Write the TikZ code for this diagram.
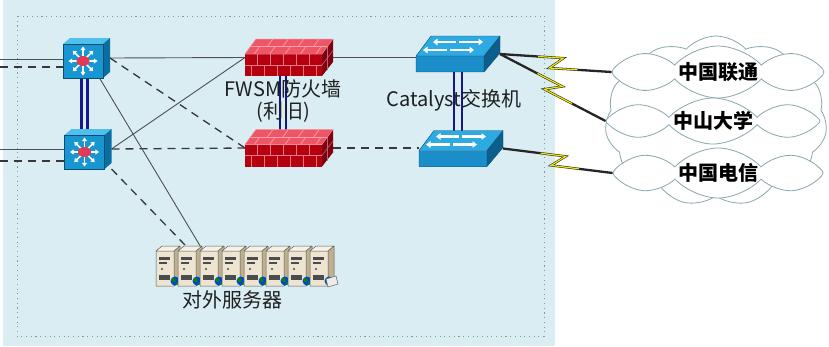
\documentclass[tikz,border=0pt]{standalone}
\usepackage{fontspec}
\setmainfont{Noto Sans CJK SC}
\usetikzlibrary{shapes.symbols,arrows.meta,calc}

\definecolor{panel}{HTML}{DAEDF3}
\definecolor{frameline}{HTML}{8C9496}
\definecolor{wire}{HTML}{505050}
\definecolor{trunkblue}{HTML}{16168A}
\definecolor{hubfront}{HTML}{1896D2}
\definecolor{hubtop}{HTML}{4FC0EE}
\definecolor{hubside}{HTML}{0B6EA3}
\definecolor{hubred}{HTML}{E23A55}
\definecolor{fwtop}{HTML}{EE5566}
\definecolor{fwbrick}{HTML}{F6A1AA}
\definecolor{fwfront}{HTML}{B5000F}
\definecolor{fwside}{HTML}{7C0010}
\definecolor{cattop}{HTML}{2DAAE2}
\definecolor{catfront}{HTML}{1B8DC9}
\definecolor{catside}{HTML}{0C5F8C}
\definecolor{srvfront}{HTML}{EDE5D2}
\definecolor{srvtop}{HTML}{F7F2E6}
\definecolor{srvside}{HTML}{BFB08F}
\definecolor{cloudline}{HTML}{8AA6AE}
\definecolor{boltyellow}{HTML}{F2E600}
\definecolor{labeltext}{HTML}{1F1F1F}

\tikzset{
  iconbox/.style={inner sep=0pt, outer sep=0pt},
  lbl/.style={font=\fontsize{20}{24}\selectfont, text=labeltext, inner sep=0pt},
  cloudlbl/.style={font=\fontsize{20}{24}\selectfont\bfseries, text=black},
  link/.style={draw=wire, line width=0.9pt},
  backup/.style={draw=black!78, line width=1.3pt, dash pattern=on 8pt off 6pt},
  trunk/.style={draw=trunkblue, line width=2.3pt},
  cloudbox/.style={cloud, draw=cloudline, fill=white, line width=0.8pt,
    inner sep=0pt, cloud puffs=8, cloud puff arc=95, aspect=4.3},
  % multilayer switch: front face, top, side, radiating arrows
  pics/l3sw/.style={code={
    \fill[hubtop] (0,6) -- (7,0) -- (47,0) -- (40,6) -- cycle;
    \fill[hubside] (40,6) -- (47,0) -- (47,34) -- (40,40) -- cycle;
    \fill[hubfront] (0,6) rectangle (40,40);
    \draw[hubside!70!black, line width=0.4pt] (0,6) rectangle (40,40);
    \begin{scope}[shift={(20,23)}]
      \foreach \a in {0,45,...,315}
        \draw[white, line width=1.5pt, -{Triangle[length=3.6pt,width=4.8pt]}] (\a:5) -- (\a:14.5);
      \fill[hubred] (0,0) ellipse (6.5 and 5);
    \end{scope}
  }},
  % brick wall firewall
  pics/firewall/.style={code={
    \fill[fwtop] (0,15) -- (11,0) -- (88,0) -- (77,15) -- cycle;
    \draw[fwbrick, line width=0.7pt] (5.5,7.5) -- (82.5,7.5);
    \foreach \t in {0.12,0.32,0.52,0.72,0.92}
      \draw[fwbrick, line width=0.7pt] ({77*\t},15) -- ({77*\t+5.5},7.5);
    \foreach \t in {0.22,0.42,0.62,0.82}
      \draw[fwbrick, line width=0.7pt] ({77*\t+5.5},7.5) -- ({77*\t+11},0);
    \fill[fwside] (77,15) -- (88,0) -- (88,23) -- (77,37) -- cycle;
    \draw[fwbrick!60!fwside, line width=0.6pt] (77,26) -- (88,11.5) (82.5,7.5) -- (82.5,31);
    \fill[fwfront] (0,15) rectangle (77,37);
    \draw[fwbrick!75!fwfront, line width=0.7pt] (0,26) -- (77,26);
    \foreach \x in {12,25,38,51,64}
      \draw[fwbrick!75!fwfront, line width=0.7pt] (\x,15) -- (\x,26);
    \foreach \x in {6,19,32,45,58,71}
      \draw[fwbrick!75!fwfront, line width=0.7pt] (\x,26) -- (\x,37);
    \draw[fwbrick!70!fwtop, line width=0.5pt] (0,15) -- (11,0) -- (88,0) -- (77,15) -- cycle;
  }},
  % workgroup switch with four arrows on top
  pics/catsw/.style={code={
    \fill[cattop] (0,20) -- (15,0) -- (84,0) -- (68,20) -- cycle;
    \fill[catside] (68,20) -- (84,0) -- (84,17) -- (68,36) -- cycle;
    \fill[catfront] (0,20) rectangle (68,36);
    \draw[catside!80!black, line width=0.4pt] (0,20) -- (15,0) -- (84,0) -- (84,17) -- (68,36) -- (0,36) -- cycle
      (0,20) -- (68,20) -- (84,0) (68,20) -- (68,36);
    \begin{scope}[white, line width=2.2pt, -{Triangle[length=4.5pt,width=6.5pt]}]
      \draw (40,6) -- (17,6);
      \draw (43,6) -- (67,6);
      \draw (31,14) -- (7,14);
      \draw (34,14) -- (58,14);
    \end{scope}
  }},
  % tower server with globe badge
  pics/server/.style={code={
    \fill[srvtop] (0,5) -- (6,0) -- (24,0) -- (18,5) -- cycle;
    \fill[srvside] (18,5) -- (24,0) -- (24,35) -- (18,40) -- cycle;
    \fill[srvfront] (0,5) rectangle (18,40);
    \draw[black!65, line width=0.5pt] (0,5) -- (6,0) -- (24,0) -- (24,35) -- (18,40) -- (0,40) -- cycle
      (0,5) -- (18,5) -- (24,0) (18,5) -- (18,40);
    \fill[black!70] (3,11) rectangle (14,13.5);
    \fill[black!70] (3,16) rectangle (11,18);
    \fill[black!70] (6,23) circle (1.2);
    \fill[black!70] (3,29) rectangle (14,34);
    \fill[blue!65!cyan!80!black] (19,35) circle (4.5);
    \fill[green!55!black] (17.5,34) circle (2);
    \fill[green!55!black] (21,37.5) circle (1.4);
  }},
}

% lightning link between two named points
\newcommand\zapline[2]{%
  \path ($(#1)!0.56!(#2)!6pt!90:(#2)$) coordinate (zA)
        ($(#1)!0.45!(#2)!6pt!-90:(#2)$) coordinate (zB);
  \draw[black!85, line width=2.3pt, line join=miter] (#1) -- (zA) -- (zB) -- (#2);
  \draw[boltyellow, line width=1.2pt, line join=miter] ($(#1)!0.6!(zA)$) -- (zA) -- (zB) -- ($(zB)!0.45!(#2)$);
}

\begin{document}
\begin{tikzpicture}[x=1pt, y=-1pt]
\useasboundingbox (0,0) rectangle (829,346);

% panel and its dotted frame
\fill[panel] (3,0) rectangle (555,346);
\draw[frameline, line width=1pt, dash pattern=on 1.1pt off 3.6pt] (17,16) rectangle (544,336);

% carrier clouds
\node[cloudbox, cloud puffs=11, aspect=1.3, minimum width=222pt, minimum height=170pt] (cback) at (716,121) {};
\node[cloudbox, minimum width=212pt, minimum height=52pt] (c1) at (718,72) {};
\node[cloudbox, minimum width=214pt, minimum height=46pt] (c2) at (713,121) {};
\node[cloudbox, minimum width=210pt, minimum height=50pt] (c3) at (718,173) {};
\node[cloudlbl] at (c1) {中国联通};
\node[cloudlbl] at (c2) {中山大学};
\node[cloudlbl] at (c3) {中国电信};

% device placeholders
\node[iconbox, minimum width=47pt, minimum height=40pt] (l3a) at (86.5,58) {};
\node[iconbox, minimum width=47pt, minimum height=40pt] (l3b) at (88,149) {};
\node[iconbox, minimum width=88pt, minimum height=37pt] (fwa) at (289,57.5) {};
\node[iconbox, minimum width=88pt, minimum height=37pt] (fwb) at (289,148) {};
\node[iconbox, minimum width=84pt, minimum height=36pt] (cata) at (458,54) {};
\node[iconbox, minimum width=84pt, minimum height=36pt] (catb) at (461,148.5) {};
\node[iconbox, minimum width=180pt, minimum height=42pt] (srv) at (245,266) {};

\coordinate (inA) at (0,59);
\coordinate (inAd) at (0,67);
\coordinate (inB) at (0,149);
\coordinate (inBd) at (0,161);

% uplinks entering from the left
\draw[link] (inA) -- (inA -| l3a.west);
\draw[backup] (inAd) -- (inAd -| l3a.west);
\draw[link] (inB) -- (inB -| l3b.west);
\draw[backup] (inBd) -- (inBd -| l3b.west);

% core to firewall
\draw[link] (l3a.east) -- (fwa.west);
\draw[backup] (l3a.east) -- (fwb.west);
\draw[link] (l3b.east) -- (fwa.west);
\draw[backup] (l3b.east) -- (fwb.west);

% core to servers
\draw[link] ([xshift=13pt]l3a.south) -- ($(srv.north west)+(47,4)$);
\draw[backup] (l3b.south east) -- ($(srv.north west)+(30,0)$);

% firewall to catalyst
\draw[link] (fwa.east) -- (fwa.east -| cata.west);
\draw[backup] (fwb.east) -- (fwb.east -| catb.west);

% stacking trunks
\foreach \dx in {-5,1}
  \draw[trunk] ([xshift=\dx pt]l3a.south) -- ([xshift=\dx pt]l3a.south |- l3b.north);
\foreach \dx in {-9,-3}
  \draw[trunk] ([xshift=\dx pt]fwa.south) -- ([xshift=\dx pt]fwa.south |- fwb.north);
\foreach \dx in {-4,4}
  \draw[trunk] ([xshift=\dx pt]cata.south) -- ([xshift=\dx pt]cata.south |- catb.north);

% WAN links
\zapline{cata.east}{c1.west}
\zapline{cata.east}{c2.west}
\zapline{catb.east}{c3.west}

% device icons
\pic at (l3a.north west) {l3sw};
\pic at (l3b.north west) {l3sw};
\pic at (fwa.north west) {firewall};
\pic at (fwb.north west) {firewall};
\pic at (cata.north west) {catsw};
\pic at (catb.north west) {catsw};
\foreach \i in {0,...,7}
  \pic at ($(srv.north west)+({22*\i+1},1)$) {server};
\draw[black!60, fill=gray!15, line width=0.5pt]
  ($(srv.north west)+(171,34)$) -- ++(10,-3) -- ++(2,8) -- ++(-10,3) -- cycle;

% labels
\node[lbl] (fwlbl) at (283,89) {FWSM防火墙};
\node[lbl] (fwlbl2) at (283,112) {(利旧)};
\node[lbl] (catlbl) at (454,100) {Catalyst交换机};
\node[lbl] (srvlbl) at (232,300) {对外服务器};
\end{tikzpicture}
\end{document}
